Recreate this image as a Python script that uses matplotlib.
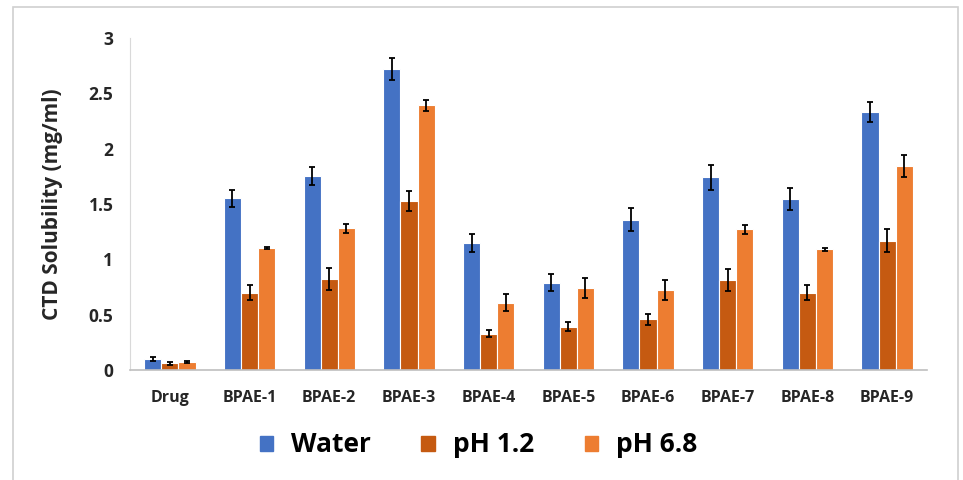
import matplotlib
matplotlib.use('Agg')
import matplotlib.pyplot as plt
import matplotlib.patches as mpatches
import numpy as np

plt.rcParams['font.family'] = ['Open Sans', 'DejaVu Sans']

categories = ['Drug', 'BPAE-1', 'BPAE-2', 'BPAE-3', 'BPAE-4', 'BPAE-5',
              'BPAE-6', 'BPAE-7', 'BPAE-8', 'BPAE-9']
water = [0.10, 1.55, 1.75, 2.72, 1.15, 0.79, 1.36, 1.74, 1.545, 2.33]
ph12 = [0.06, 0.70, 0.82, 1.53, 0.33, 0.39, 0.46, 0.81, 0.70, 1.17]
ph68 = [0.07, 1.10, 1.28, 2.39, 0.61, 0.74, 0.72, 1.27, 1.09, 1.84]
water_err = [0.02, 0.08, 0.08, 0.10, 0.08, 0.08, 0.10, 0.11, 0.10, 0.09]
ph12_err = [0.01, 0.07, 0.10, 0.09, 0.035, 0.04, 0.05, 0.10, 0.07, 0.10]
ph68_err = [0.01, 0.01, 0.04, 0.05, 0.08, 0.09, 0.09, 0.04, 0.01, 0.10]
series = ['Water', 'pH 1.2', 'pH 6.8']
colors = ['#4472C4', '#C55A11', '#ED7D31']

fig = plt.figure(figsize=(9.63, 4.8), dpi=100)
ax = fig.add_axes([0.135, 0.229, 0.8276, 0.692])

# outer frame like the exported chart area
fig.patches.append(mpatches.Rectangle((13 / 963, -0.01), 945 / 963, 1 - 7 / 480 + 0.01,
                                      transform=fig.transFigure, fill=False,
                                      edgecolor='#d0d0d0', linewidth=1.2))

x = np.arange(len(categories))
w = 0.215
for i, (vals, errs) in enumerate([(water, water_err), (ph12, ph12_err), (ph68, ph68_err)]):
    ax.bar(x + (i - 1) * w, vals, width=w, color=colors[i], edgecolor='white',
           linewidth=0.8, label=series[i],
           yerr=errs, capsize=2.5, error_kw=dict(ecolor='black', elinewidth=1.3, capthick=1.3))

ax.set_xlim(-0.5, len(categories) - 0.5)
ax.set_ylim(0, 3)
ax.set_yticks([0, 0.5, 1, 1.5, 2, 2.5, 3])
ax.set_yticklabels(['0', '0.5', '1', '1.5', '2', '2.5', '3'])
ax.set_xticks(x)
ax.set_xticklabels(categories)
ax.tick_params(axis='both', length=0)
ax.tick_params(axis='y', pad=12, labelsize=12.5)
ax.tick_params(axis='x', pad=14, labelsize=11.5)
for lab in ax.get_xticklabels() + ax.get_yticklabels():
    lab.set_fontweight('bold')
    lab.set_color('#262626')

ax.set_ylabel('CTD Solubility (mg/ml)', fontsize=15, fontweight='bold', color='#262626')
ax.yaxis.set_label_coords(-0.084, 0.5)
for s in ['top', 'right']:
    ax.spines[s].set_visible(False)
ax.spines['left'].set_color('#d9d9d9')
ax.spines['bottom'].set_color('#bfbfbf')
ax.spines['bottom'].set_linewidth(1.2)

handles = [mpatches.Patch(color=c, label=s) for c, s in zip(colors, series)]
fig.legend(handles=handles, loc='center', bbox_to_anchor=(0.497, 0.073), ncol=3,
           frameon=False, prop=dict(size=19, weight='bold'), handlelength=0.5,
           handleheight=0.5, columnspacing=1.9, handletextpad=0.7)

fig.savefig('out.png', dpi=100)
